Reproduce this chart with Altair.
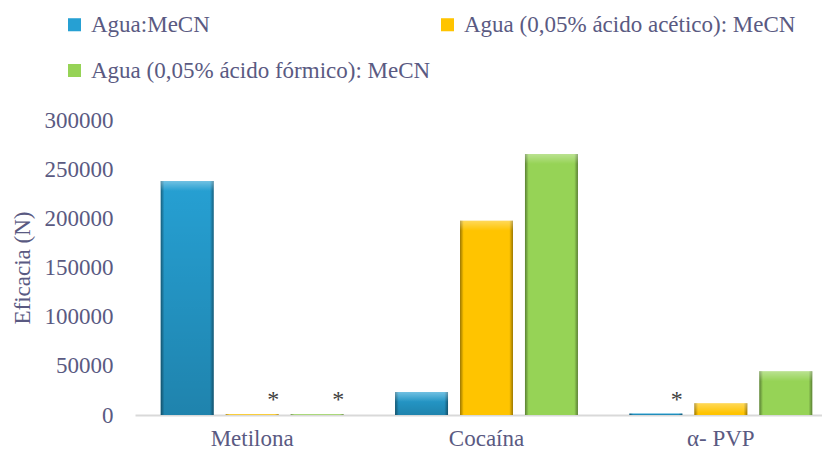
import altair as alt
import pandas as pd

categories = ["Metilona", "Cocaína", "α- PVP"]
series = ["Agua:MeCN", "Agua (0,05% ácido acético): MeCN", "Agua (0,05% ácido fórmico): MeCN"]
agua_mecn = [238000, 23500, 1500]
agua_acetico = [800, 197500, 12000]
agua_formico = [800, 265500, 44500]
asterisk_agua = ["", "", "*"]
asterisk_acetico = ["*", "", ""]
asterisk_formico = ["*", "", ""]
colors = ["#26a0d3", "#ffc400", "#96d356"]
y_ticks = [0, 50000, 100000, 150000, 200000, 250000, 300000]

rows = []
for s, vals, marks in zip(series, [agua_mecn, agua_acetico, agua_formico],
                          [asterisk_agua, asterisk_acetico, asterisk_formico]):
    for c, v, m in zip(categories, vals, marks):
        rows.append({"cat": c, "serie": s, "v": v, "mark": m})
df = pd.DataFrame(rows)

FONT = "Liberation Serif"
TXT = "#5a5a82"

x_enc = alt.X("cat:N", sort=categories, title=None,
              scale=alt.Scale(range=[2, 705], paddingInner=0, paddingOuter=0),
              axis=alt.Axis(labelFont=FONT, labelFontSize=23, labelColor=TXT, labelAngle=0,
                            labelPadding=12, ticks=False, domainColor="#d9d9d9", domainWidth=2))
xo_enc = alt.XOffset("serie:N", sort=series,
                     scale=alt.Scale(domain=series, paddingInner=0.1846, paddingOuter=0.396))
y_enc = alt.Y("v:Q", stack=None, title="Eficacia (N)",
              scale=alt.Scale(domain=[0, 300000], nice=False),
              axis=alt.Axis(values=y_ticks, format="d", grid=False, domain=False, ticks=False,
                            labelFont=FONT, labelFontSize=23, labelColor=TXT, labelPadding=20,
                            titleFont=FONT, titleFontSize=23, titleFontWeight="normal",
                            titleColor=TXT, titlePadding=10))

color_enc = alt.Color("serie:N", sort=series,
                      scale=alt.Scale(domain=series, range=colors),
                      legend=alt.Legend(title=None, orient="none", legendX=-70, legendY=-107,
                                        columns=2, direction="horizontal",
                                        symbolType="square", symbolSize=170, symbolStrokeWidth=0,
                                        labelFont=FONT, labelFontSize=23, labelColor=TXT,
                                        labelOffset=5, rowPadding=22, columnPadding=5,
                                        labelLimit=500))

base = alt.Chart(df)

bars = base.mark_bar().encode(
    x=x_enc, xOffset=xo_enc, y=y_enc, color=color_enc)

shade = base.transform_filter(alt.datum.serie == series[0]).mark_bar(fill=alt.Gradient(
    gradient="linear", x1=0, x2=0, y1=0, y2=1,
    stops=[alt.GradientStop(color="rgba(0,0,0,0.0)", offset=0),
           alt.GradientStop(color="rgba(0,0,0,0.18)", offset=1)])).encode(
    x=x_enc, xOffset=xo_enc, y=alt.Y("v:Q", stack=None))

sides = base.mark_bar(fill=alt.Gradient(
    gradient="linear", x1=0, x2=1, y1=0, y2=0,
    stops=[alt.GradientStop(color="rgba(0,0,0,0.4)", offset=0),
           alt.GradientStop(color="rgba(0,0,0,0.0)", offset=0.07),
           alt.GradientStop(color="rgba(0,0,0,0.0)", offset=0.93),
           alt.GradientStop(color="rgba(0,0,0,0.4)", offset=1)])).encode(
    x=x_enc, xOffset=xo_enc, y=alt.Y("v:Q", stack=None))

top = base.transform_filter("datum.v > 5000").mark_bar(
    fill=alt.Gradient(
        gradient="linear", x1=0, x2=0, y1=0, y2=1,
        stops=[alt.GradientStop(color="rgba(255,255,255,0.35)", offset=0),
               alt.GradientStop(color="rgba(255,255,255,0.0)", offset=1)]),
    y2Offset=10).encode(
    x=x_enc, xOffset=xo_enc, y=alt.Y("v:Q", stack=None), y2=alt.Y2("v:Q"))

stars = base.transform_filter("datum.mark != ''").mark_text(
    font=FONT, fontSize=24, color="#404040", dx=21, dy=-14, baseline="middle").encode(
    x=x_enc, xOffset=xo_enc, y=alt.Y("v:Q", stack=None), text="mark:N")

chart = alt.layer(bars, shade, sides, top, stars).properties(
    width=689, height=295,
    autosize=alt.AutoSizeParams(type="none"),
    padding={"left": 125, "top": 112, "right": 0, "bottom": 38},
).configure_view(stroke=None)

chart.save("out.html", embed_options={"renderer": "svg", "actions": False})
